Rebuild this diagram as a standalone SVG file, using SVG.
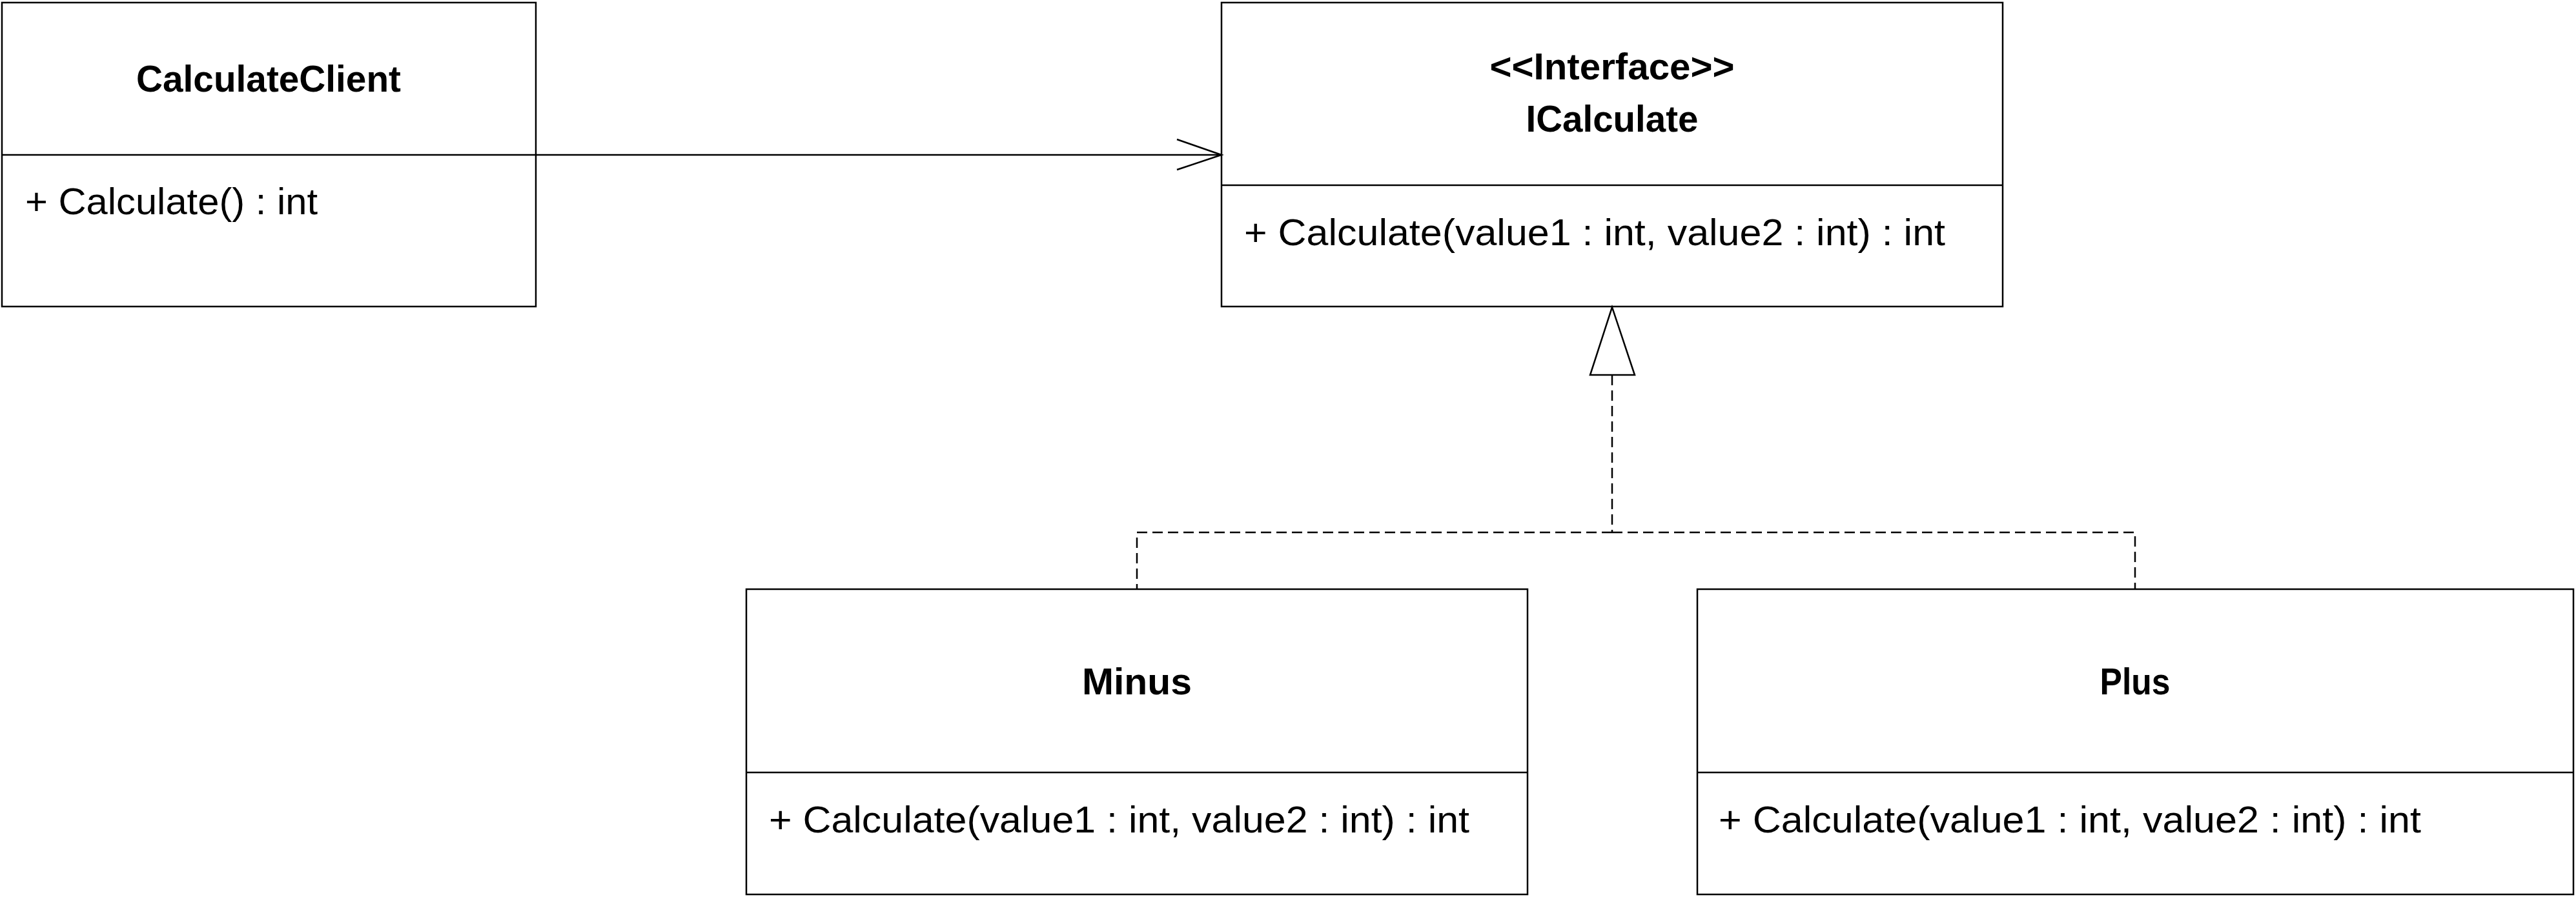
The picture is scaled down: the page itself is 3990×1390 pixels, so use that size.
<svg xmlns="http://www.w3.org/2000/svg" width="3990" height="1390" viewBox="0 0 3990 1390">
<style>
.box{fill:#fff;stroke:#000;stroke-width:2.5}
.div{stroke:#000;stroke-width:2.5}
.t{font-family:"Liberation Sans",Arial,sans-serif;font-size:58px;fill:#000}
.b{font-weight:bold;text-anchor:middle}
.con{fill:none;stroke:#000;stroke-width:2.5}
.dash{stroke-dasharray:16 8}
</style>
<rect width="3990" height="1390" fill="#fff"/>
<g id="CalculateClient">
<rect class="box" x="3" y="4" width="827" height="471"/>
<line class="div" x1="3" y1="240" x2="830" y2="240"/>
<text class="t b" x="416" y="142" textLength="410" lengthAdjust="spacingAndGlyphs">CalculateClient</text>
<text class="t" x="39" y="332" textLength="453" lengthAdjust="spacingAndGlyphs">+ Calculate() : int</text>
</g>
<g id="ICalculate">
<rect class="box" x="1892" y="4" width="1210" height="471"/>
<line class="div" x1="1892" y1="287" x2="3102" y2="287"/>
<text class="t b" x="2497" y="123" textLength="379" lengthAdjust="spacingAndGlyphs">&lt;&lt;Interface&gt;&gt;</text>
<text class="t b" x="2497" y="204" textLength="267" lengthAdjust="spacingAndGlyphs">ICalculate</text>
<text class="t" x="1927" y="380" textLength="1086" lengthAdjust="spacingAndGlyphs">+ Calculate(value1 : int, value2 : int) : int</text>
</g>
<g id="Minus">
<rect class="box" x="1156" y="913" width="1210" height="473"/>
<line class="div" x1="1156" y1="1197" x2="2366" y2="1197"/>
<text class="t b" x="1761" y="1076" textLength="170" lengthAdjust="spacingAndGlyphs">Minus</text>
<text class="t" x="1191" y="1290" textLength="1085" lengthAdjust="spacingAndGlyphs">+ Calculate(value1 : int, value2 : int) : int</text>
</g>
<g id="Plus">
<rect class="box" x="2629" y="913" width="1357" height="473"/>
<line class="div" x1="2629" y1="1197" x2="3986" y2="1197"/>
<text class="t b" x="3307" y="1076" textLength="109" lengthAdjust="spacingAndGlyphs">Plus</text>
<text class="t" x="2662" y="1290" textLength="1088" lengthAdjust="spacingAndGlyphs">+ Calculate(value1 : int, value2 : int) : int</text>
</g>
<g id="connectors">
<line class="con" x1="830" y1="240" x2="1892" y2="240"/>
<polyline class="con" points="1823,216 1892,240 1823,263"/>
<polygon class="con" fill="#fff" points="2497,476 2463,581 2532,581"/>
<polyline class="con dash" points="2497,581 2497,825"/>
<polyline class="con dash" points="2497,825 1761,825 1761,913"/>
<polyline class="con dash" points="2497,825 3307,825 3307,913"/>
</g>
</svg>
